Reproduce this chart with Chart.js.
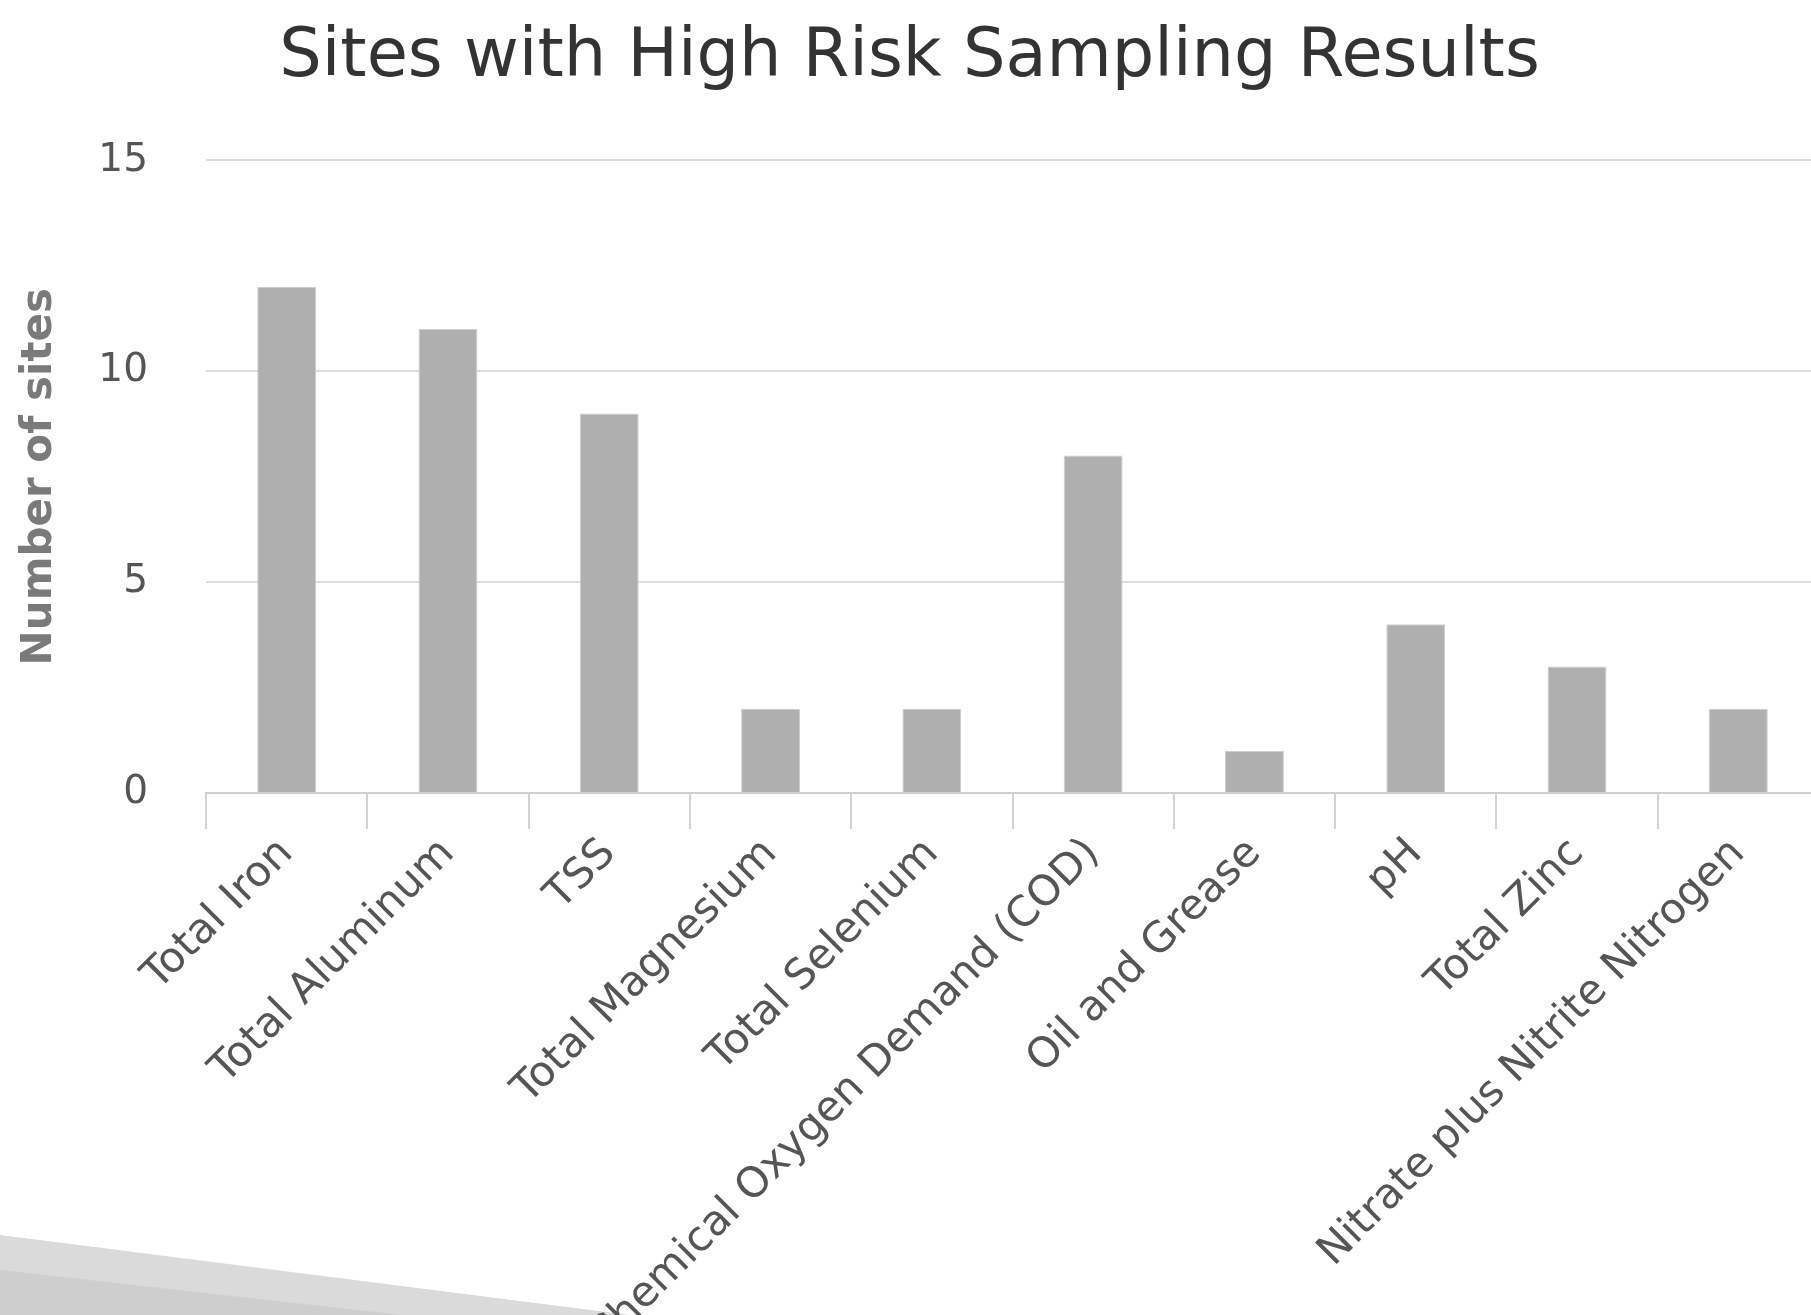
<!DOCTYPE html>
<html>
<head>
<meta charset="utf-8">
<script src="https://cdn.jsdelivr.net/npm/chart.js@4.4.1/dist/chart.umd.min.js"></script>
<style>
  html, body { margin: 0; padding: 0; background: #fff; overflow: hidden; }
  #wrap { width: 1820px; height: 1315px; }
</style>
</head>
<body>
<div id="wrap"><canvas id="myChart"></canvas></div>
<script>
const categories = ['Total Iron', 'Total Aluminum', 'TSS', 'Total Magnesium', 'Total Selenium',
  'Chemical Oxygen Demand (COD)', 'Oil and Grease', 'pH', 'Total Zinc', 'Nitrate plus Nitrite Nitrogen'];
const siteCounts = [12, 11, 9, 2, 2, 8, 1, 4, 3, 2];
const yTicks = [0, 5, 10, 15];

const FONT = "'DejaVu Sans', sans-serif";

// grey slide decoration in the lower left corner
const slideCorner = {
  id: 'slideCorner',
  beforeDraw(chart) {
    const c = chart.ctx;
    const h = chart.height;
    c.save();
    c.fillStyle = '#dadada';
    c.beginPath();
    c.moveTo(0, h - 80);
    c.lineTo(630, h);
    c.lineTo(0, h);
    c.closePath();
    c.fill();
    c.fillStyle = '#cecece';
    c.beginPath();
    c.moveTo(0, h - 45);
    c.lineTo(402, h);
    c.lineTo(0, h);
    c.closePath();
    c.fill();
    c.restore();
  }
};

const ctx = document.getElementById('myChart');
const chart = new Chart(ctx, {
  type: 'bar',
  data: {
    labels: categories,
    datasets: [{
      label: 'Number of sites',
      data: siteCounts,
      backgroundColor: '#afafaf',
      borderColor: '#cdcdcd',
      borderWidth: 1,
      barPercentage: 0.365,
      categoryPercentage: 1
    }]
  },
  options: {
    responsive: true,
    maintainAspectRatio: false,
    animation: false,
    layout: { padding: { left: 0, right: 1, top: 0, bottom: 0 } },
    plugins: {
      legend: { display: false },
      tooltip: { enabled: false },
      title: {
        display: true,
        text: 'Sites with High Risk Sampling Results',
        color: '#333333',
        font: { family: FONT, size: 67, weight: 'normal' },
        padding: { top: 18, bottom: 62 }
      }
    },
    scales: {
      x: {
        grid: {
          offset: true,
          drawOnChartArea: false,
          drawTicks: true,
          tickLength: 36,
          color: '#d2d2d2',
          lineWidth: 2
        },
        border: { display: true, color: '#cfcfcf', width: 2 },
        ticks: {
          autoSkip: false,
          minRotation: 45,
          maxRotation: 45,
          padding: 0,
          color: '#555555',
          font: { family: FONT, size: 42 }
        },
        afterFit(scale) { scale.height = 522; }
      },
      y: {
        min: 0,
        max: 15,
        afterBuildTicks(scale) { scale.ticks = yTicks.map(v => ({ value: v })); },
        grid: { drawTicks: false, color: '#dcdcdc', lineWidth: 2 },
        border: { display: false },
        ticks: {
          padding: 58,
          color: '#555555',
          font: { family: FONT, size: 39 }
        },
        title: {
          display: true,
          text: 'Number of sites',
          color: '#7a7a7a',
          font: { family: FONT, size: 42, weight: 'bold' },
          padding: { top: 15, bottom: 0 }
        },
        afterFit(scale) { scale.width = 206; }
      }
    }
  },
  plugins: [slideCorner]
});
</script>
</body>
</html>
